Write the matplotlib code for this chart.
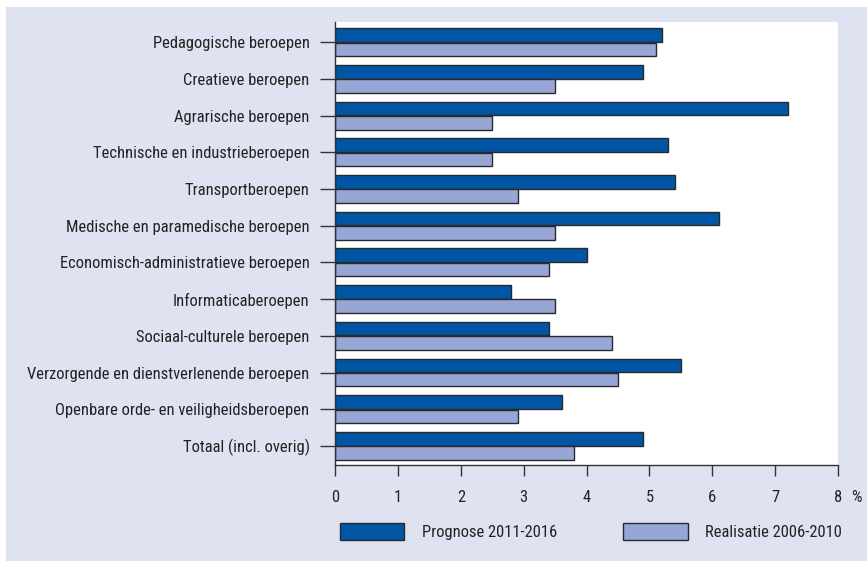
import numpy as np
import matplotlib
matplotlib.use("Agg")
import matplotlib.pyplot as plt
from matplotlib.patches import Patch, Rectangle

# Data
categories = [
    "Pedagogische beroepen",
    "Creatieve beroepen",
    "Agrarische beroepen",
    "Technische en industrieberoepen",
    "Transportberoepen",
    "Medische en paramedische beroepen",
    "Economisch-administratieve beroepen",
    "Informaticaberoepen",
    "Sociaal-culturele beroepen",
    "Verzorgende en dienstverlenende beroepen",
    "Openbare orde- en veiligheidsberoepen",
    "Totaal (incl. overig)",
]
prognose = [5.2, 4.9, 7.2, 5.3, 5.4, 6.1, 4.0, 2.8, 3.4, 5.5, 3.6, 4.9]
realisatie = [5.1, 3.5, 2.5, 2.5, 2.9, 3.5, 3.4, 3.5, 4.4, 4.5, 2.9, 3.8]
x_ticks = [0, 1, 2, 3, 4, 5, 6, 7, 8]
series_names = ["Prognose 2011-2016", "Realisatie 2006-2010"]

dark = "#0055a5"
light = "#97a6d4"
bg = "#dfe2f1"
edge = "#2a2a2a"
txt = "#222222"

plt.rcParams['font.family'] = ['Roboto Condensed', 'Liberation Sans Narrow', 'Lato', 'DejaVu Sans']
fs = 11.9

fig = plt.figure(figsize=(8.67, 5.61), dpi=100)
fig.patches.append(Rectangle((6 / 867, 0), 1, 1 - 7 / 561, transform=fig.transFigure,
                             facecolor=bg, edgecolor='none', zorder=-10))

ax = fig.add_axes([335.3 / 867, 1 - 465 / 561, (838 - 335.3) / 867, (465 - 22) / 561])
ax.set_facecolor("white")

y = np.arange(len(categories))
h = 0.37
ax.barh(y - h / 2 - 0.01, prognose, height=h, color=dark, edgecolor=edge, linewidth=1.0)
ax.barh(y + h / 2 + 0.01, realisatie, height=h, color=light, edgecolor=edge, linewidth=1.0)

ax.set_xlim(0, 8)
ax.set_ylim(11.52, -0.55)
ax.set_xticks(x_ticks)
ax.set_xticklabels([str(t) for t in x_ticks])
ax.set_yticks(y)
ax.set_yticklabels(categories)

for s in ["top", "right"]:
    ax.spines[s].set_visible(False)
for s in ["left", "bottom"]:
    ax.spines[s].set_color("#333333")
    ax.spines[s].set_linewidth(1.0)
ax.tick_params(axis='y', length=10.5, width=1.0, color="#333333", pad=8, labelsize=fs, labelcolor=txt)
ax.tick_params(axis='x', length=8, width=1.0, color="#333333", pad=10, labelsize=fs, labelcolor=txt)

# "%" unit next to the last x tick label
ax.text(8.3, -(498 - 465) / (465 - 22), "%", transform=ax.get_xaxis_transform(),
        ha='center', va='center', fontsize=fs, color=txt)

handles = [Patch(facecolor=dark, edgecolor=edge, linewidth=1.0, label=series_names[0]),
           Patch(facecolor=light, edgecolor=edge, linewidth=1.0, label=series_names[1])]
fig.legend(handles=handles, loc='center left', bbox_to_anchor=(340 / 867, 1 - 531.5 / 561),
           ncol=2, frameon=False, borderpad=0, borderaxespad=0, handlelength=3.9,
           handleheight=1.15, handletextpad=1.05, columnspacing=4.0, fontsize=fs,
           labelcolor=txt)

fig.savefig("out.png", dpi=100)
